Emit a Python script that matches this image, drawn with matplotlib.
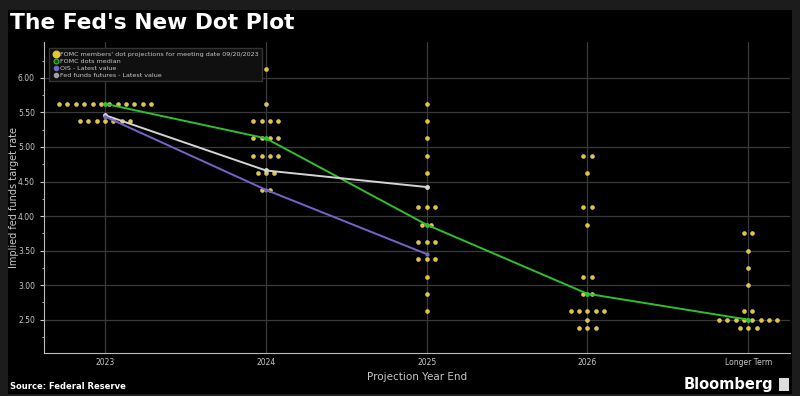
import matplotlib.pyplot as plt
from matplotlib.patches import Rectangle

# x categories
categories = ["2023", "2024", "2025", "2026", "Longer Term"]

# FOMC dot projections: rate levels and how many members sit at each level
dot_levels = [
    [5.625, 5.375],
    [6.125, 5.625, 5.375, 5.125, 4.875, 4.625, 4.375],
    [5.625, 5.375, 5.125, 4.875, 4.625, 4.125, 3.875, 3.625, 3.375, 3.125, 2.875, 2.625],
    [4.875, 4.625, 4.125, 3.875, 3.125, 2.875, 2.625, 2.5, 2.375],
    [3.75, 3.5, 3.25, 3.0, 2.625, 2.5, 2.375],
]
dot_counts = [
    [12, 7],
    [1, 1, 4, 4, 4, 3, 2],
    [1, 1, 1, 1, 1, 3, 2, 3, 3, 1, 1, 1],
    [2, 1, 2, 1, 2, 2, 5, 1, 3],
    [2, 1, 1, 1, 2, 8, 3],
]

median = [5.625, 5.125, 3.875, 2.875, 2.5]
ois = [5.44, 4.38, 3.45]
futures = [5.46, 4.66, 4.42]

yticks = [2.5, 3.0, 3.5, 4.0, 4.5, 5.0, 5.5, 6.0]

dot_color = "#e8c52a"
green = "#2fbf2f"
purple = "#7466c8"
grey_line = "#d4d4d4"
txt = "#c8c8c8"

fig = plt.figure(figsize=(8, 3.96), dpi=100, facecolor="#1c1c1c")
fig.patches.append(Rectangle((0.01, 0.005), 0.98, 0.97, transform=fig.transFigure,
                             facecolor="black", edgecolor="none", zorder=-10))
ax = fig.add_axes([0.055, 0.109, 0.9325, 0.785])
ax.set_facecolor("black")

step = 0.052
for i, (levels, counts) in enumerate(zip(dot_levels, dot_counts)):
    for lvl, n in zip(levels, counts):
        xs = [i + (k - (n - 1) / 2) * step for k in range(n)]
        ax.scatter(xs, [lvl] * n, s=8, color=dot_color, edgecolors="#fff4b0",
                   linewidths=0.3, zorder=3)

x = list(range(len(categories)))
ax.plot(x, median, color=green, lw=1.4, marker="o", ms=2.5, zorder=4)
ax.plot(x[:3], futures, color=grey_line, lw=1.4, marker="o", ms=2.5, zorder=4)
ax.plot(x[:3], ois, color=purple, lw=1.4, marker="o", ms=2, zorder=4)

ax.set_xlim(-0.38, 4.26)
ax.set_ylim(2.02, 6.52)
ax.set_xticks(x)
ax.set_xticklabels(categories)
ax.set_yticks(yticks)
ax.set_yticklabels([f"{v:.2f}" for v in yticks])
ax.set_yticks([v + 0.25 for v in [2.0] + yticks], minor=True)
ax.grid(True, color="#3a3a3a", lw=0.9)
ax.set_axisbelow(True)
ax.tick_params(axis="both", colors=txt, labelsize=5.5, length=3, width=0.8)
ax.tick_params(axis="y", which="minor", colors=txt, length=1.5, width=0.6)
ax.tick_params(axis="x", length=0, pad=4)
for side in ["top", "right"]:
    ax.spines[side].set_visible(False)
for side in ["left", "bottom"]:
    ax.spines[side].set_color("#bdbdbd")
    ax.spines[side].set_linewidth(0.8)

ax.set_xlabel("Projection Year End", color=txt, fontsize=7.5, labelpad=3)
ax.set_ylabel("Implied fed funds target rate", color=txt, fontsize=7)
ax.yaxis.set_label_coords(-0.033, 0.5)

# legend
h1 = ax.scatter([], [], s=22, color=dot_color)
h2, = ax.plot([], [], "o", ms=3.5, mfc="#1a4d1a", mec=green, mew=0.8, ls="none")
h3, = ax.plot([], [], "o", ms=3, color=purple, ls="none")
h4, = ax.plot([], [], "o", ms=3, color="#a0a0a0", ls="none")
leg = ax.legend([h1, h2, h3, h4],
                ["FOMC members' dot projections for meeting date 09/20/2023",
                 "FOMC dots median", "OIS - Latest value",
                 "Fed funds futures - Latest value"],
                loc="upper left", bbox_to_anchor=(0.003, 0.99), fontsize=4.6,
                frameon=True, facecolor="#101010", edgecolor="#333333",
                labelcolor=txt, handletextpad=0.2, borderpad=0.5,
                labelspacing=0.25, handlelength=1.0, fancybox=False)
leg.get_frame().set_alpha(1)

fig.text(0.0125, 0.943, "The Fed's New Dot Plot", color="white", fontsize=15.7,
         fontweight="bold", va="center", ha="left")
fig.text(0.0125, 0.023, "Source: Federal Reserve", color="white", fontsize=6,
         fontweight="bold", va="center", ha="left")
fig.text(0.966, 0.028, "Bloomberg", color="white", fontsize=10.5,
         fontweight="bold", va="center", ha="right")
fig.patches.append(Rectangle((0.974, 0.012), 0.012, 0.034, transform=fig.transFigure,
                             facecolor="#dddddd", edgecolor="none", zorder=2))

fig.savefig("out.png", dpi=100, facecolor=fig.get_facecolor())
